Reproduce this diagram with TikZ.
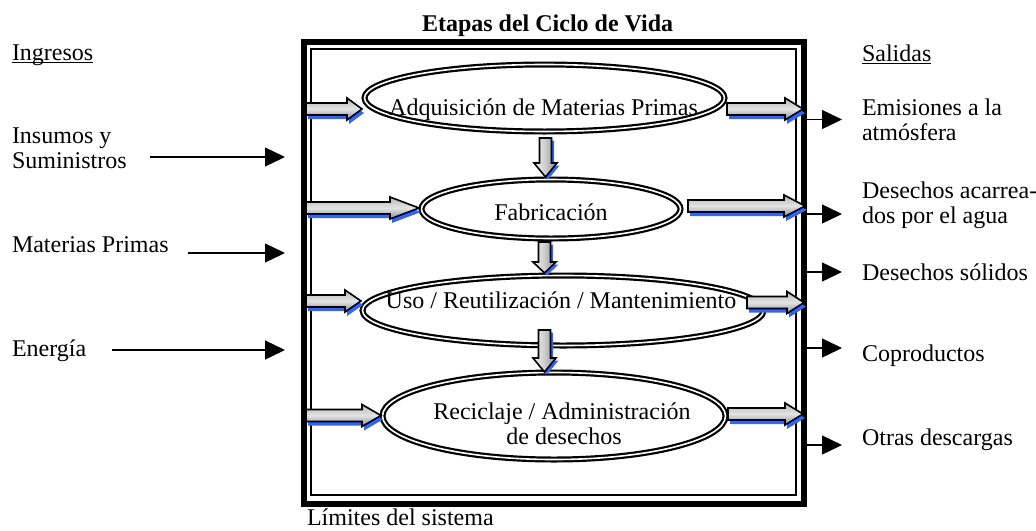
\documentclass[tikz,border=0pt]{standalone}
\usepackage{fontspec}
\setmainfont{Liberation Serif}
\usetikzlibrary{shapes.geometric,arrows.meta}
\definecolor{shblue}{RGB}{50,100,245}
\tikzset{
  lbl/.style={inner sep=0pt, outer sep=0pt, anchor=base west, font=\fontsize{12pt}{12.5pt}\selectfont},
  ctr/.style={inner sep=0pt, outer sep=0pt, anchor=base, font=\fontsize{12pt}{12.5pt}\selectfont},
  stage/.style={ellipse, draw=black, double=white, line width=1.1pt, double distance=0.8pt, inner sep=0pt},
  flow/.style={line width=0.65pt, -{Triangle[length=10pt,width=9.5pt]}},
  blk/.style={draw=black, line width=0.8pt, line join=miter},
  hshade/.style={top color=gray!55, bottom color=gray!92, middle color=gray!22},
  vshade/.style={left color=gray!8, right color=gray!92, middle color=gray!40},
  shad/.style={fill=shblue}
}
% horizontal block arrow: x-start, x-head, x-tip, y
\newcommand\hblock[4]{%
  \fill[shad, shift={(2,4)}] (#1,#4-6) -- (#2,#4-6) -- (#2,#4-11) -- (#3,#4) -- (#2,#4+11) -- (#2,#4+6) -- (#1,#4+6) -- cycle;
  \draw[blk, hshade] (#1,#4-6) -- (#2,#4-6) -- (#2,#4-11) -- (#3,#4) -- (#2,#4+11) -- (#2,#4+6) -- (#1,#4+6) -- cycle;}
% vertical block arrow: x, y-start, y-head, y-tip
\newcommand\vblock[4]{%
  \fill[shad, shift={(2.5,2.5)}] (#1-6,#2) -- (#1+6,#2) -- (#1+6,#3) -- (#1+11.5,#3) -- (#1,#4) -- (#1-11.5,#3) -- (#1-6,#3) -- cycle;
  \draw[blk, vshade] (#1-6,#2) -- (#1+6,#2) -- (#1+6,#3) -- (#1+11.5,#3) -- (#1,#4) -- (#1-11.5,#3) -- (#1-6,#3) -- cycle;}
\begin{document}
\begin{tikzpicture}[x=0.5pt,y=-0.5pt]
\useasboundingbox (0,0) rectangle (1036,530);

% frame (system boundary)
\node[draw=black, line width=3pt, minimum width=250pt, minimum height=231pt, inner sep=0pt] (frame) at (554,273) {};
\node[draw=black, line width=0.8pt, minimum width=242.5pt, minimum height=223pt, inner sep=0pt, outer sep=0pt] (frameIn) at (553.5,272) {};

% stages
\node[stage, minimum width=180pt, minimum height=33.5pt] (e1) at (544.5,98) {};
\node[stage, minimum width=129.5pt, minimum height=29.5pt] (e2) at (551,209) {};
\node[stage, minimum width=200.5pt, minimum height=35pt] (e3) at (563,310.5) {};
\node[stage, minimum width=171.5pt, minimum height=43.5pt] (e4) at (554,416) {};

\node[ctr] (t1) at (543.5,115) {Adquisición de Materias Primas};
\node[ctr] (t2) at (551,220) {Fabricación};
\node[ctr] (t3) at (561,308) {Uso / Reutilización / Mantenimiento};
\node[ctr] (t4a) at (562,419) {Reciclaje / Administración};
\node[ctr] (t4b) at (564,444) {de desechos};

% vertical block arrows between stages
\vblock{545.5}{138}{163}{177}
\vblock{544.5}{242}{262}{273}
\vblock{544.5}{330}{358}{372}

% inflow block arrows
\hblock{306}{347}{362}{109}
\hblock{306}{390}{419}{208}
\hblock{306}{345}{361}{301}
\hblock{306}{362}{381}{415.5}

% outflow block arrows
\hblock{727}{785}{803}{109}
\hblock{688}{784}{805}{206}
\hblock{747}{787}{804}{302.5}
\hblock{728}{785}{803}{414}

% titles
\node[lbl, font={\fontsize{12pt}{12.5pt}\selectfont\bfseries}] (title) at (422,32) {Etapas del Ciclo de Vida};
\node[lbl] (ing) at (12,60) {\underline{\smash{Ingresos}}};
\node[lbl] (sal) at (862,61) {\underline{\smash{Salidas}}};
\node[lbl] (lim) at (307,525) {Límites del sistema};

% inputs
\node[lbl] (in1a) at (12,143) {Insumos y};
\node[lbl] (in1b) at (12,168) {Suministros};
\node[lbl] (in2) at (12,252) {Materias Primas};
\node[lbl] (in3) at (12,356) {Energía};

\coordinate (i1s) at (150,157);  \coordinate (i1e) at (285,157);
\coordinate (i2s) at (188,253);  \coordinate (i2e) at (285,253);
\coordinate (i3s) at (112,350);  \coordinate (i3e) at (285,350);
\draw[flow] (i1s) -- (i1e);
\draw[flow] (i2s) -- (i2e);
\draw[flow] (i3s) -- (i3e);

% outputs
\node[lbl] (o1a) at (862,115) {Emisiones a la};
\node[lbl] (o1b) at (862,140) {atmósfera};
\node[lbl] (o2a) at (862,198) {Desechos acarrea-};
\node[lbl] (o2b) at (862,223) {dos por el agua};
\node[lbl] (o3) at (862,280) {Desechos sólidos};
\node[lbl] (o4) at (862,361) {Coproductos};
\node[lbl] (o5) at (862,445) {Otras descargas};

\coordinate (x1) at (842,119.5);
\coordinate (x2) at (842,214);
\coordinate (x3) at (842,272);
\coordinate (x4) at (842,348);
\coordinate (x5) at (842,445);
\draw[flow] (frame.east |- x1) -- (x1);
\draw[flow] (frame.east |- x2) -- (x2);
\draw[flow] (frame.east |- x3) -- (x3);
\draw[flow] (frame.east |- x4) -- (x4);
\draw[flow] (frame.east |- x5) -- (x5);
\end{tikzpicture}
\end{document}
